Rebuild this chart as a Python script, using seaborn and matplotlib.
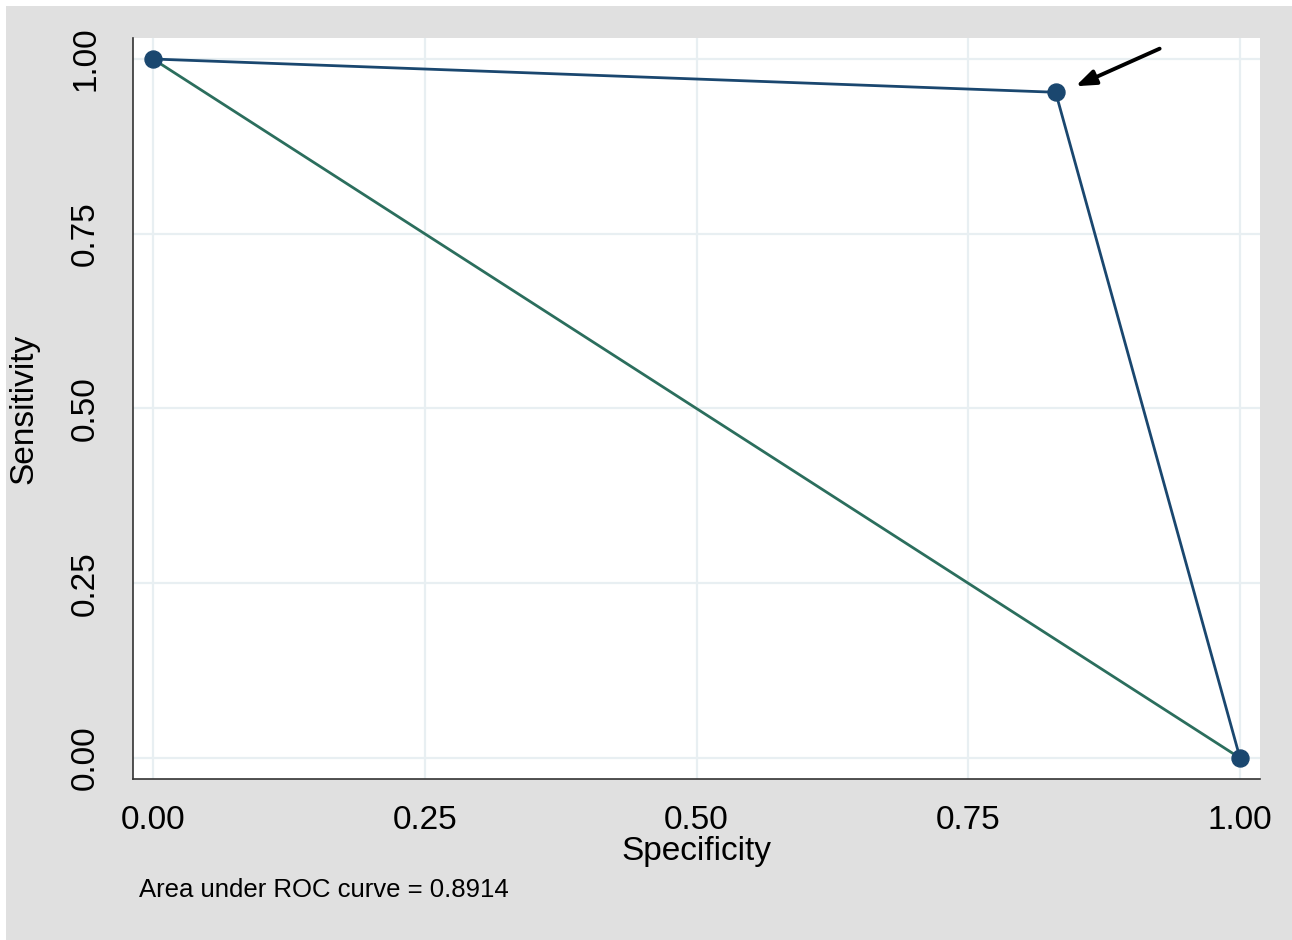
import matplotlib
matplotlib.use('Agg')
import matplotlib.pyplot as plt
import numpy as np
import pandas as pd
import seaborn as sns
from matplotlib.patches import Rectangle

# ROC points (specificity, sensitivity)
specificity = [0.0, 0.8304, 1.0]
sensitivity = [1.0, 0.9524, 0.0]
ref_x = [0.0, 1.0]
ref_y = [1.0, 0.0]
ticks = [0.0, 0.25, 0.50, 0.75, 1.0]
tick_labels = ['0.00', '0.25', '0.50', '0.75', '1.00']
auc_text = 'Area under ROC curve = 0.8914'

navy = '#1a476f'
green = '#2b6e5d'
grid_col = '#e8eff2'
bg_gray = '#e0e0e0'

sns.set_style('white')
plt.rcParams['font.family'] = ['Liberation Sans', 'DejaVu Sans']
plt.rcParams['text.color'] = 'black'
plt.rcParams['axes.labelcolor'] = 'black'
plt.rcParams['xtick.color'] = 'black'
plt.rcParams['ytick.color'] = 'black'

fig = plt.figure(figsize=(12.92, 9.4), dpi=100, facecolor='white')
fig.patches.append(Rectangle((6 / 1292, 0), 1, (940 - 6) / 940, transform=fig.transFigure,
                             facecolor=bg_gray, edgecolor='none', zorder=-10))
ax = fig.add_axes([133 / 1292, (940 - 779) / 940, (1260 - 133) / 1292, (779 - 38) / 940])
ax.set_facecolor('white')

roc = pd.DataFrame({'spec': specificity, 'sens': sensitivity})
ref = pd.DataFrame({'x': ref_x, 'y': ref_y})

sns.lineplot(data=ref, x='x', y='y', color=green, linewidth=2.0, ax=ax, sort=False, zorder=2)
sns.lineplot(data=roc, x='spec', y='sens', color=navy, linewidth=2.0, ax=ax, sort=False, zorder=3)
sns.scatterplot(data=roc, x='spec', y='sens', color=navy, s=150, edgecolor=navy, ax=ax, zorder=4)

ax.set_xlim(-20 / 1087, 1 + 20 / 1087)
ax.set_ylim(-21 / 699, 1 + 21 / 699)
ax.set_xticks(ticks)
ax.set_xticklabels(tick_labels, fontsize=24)
ax.set_yticks(ticks)
ax.set_yticklabels(tick_labels, fontsize=24, rotation=90, va='center')
ax.tick_params(axis='both', direction='out', length=10, width=1.2, color='#333333')
ax.tick_params(axis='x', pad=9)
ax.tick_params(axis='y', pad=13)
ax.grid(True, color=grid_col, linewidth=1.6)
ax.set_axisbelow(True)

for s in ['top', 'right']:
    ax.spines[s].set_visible(False)
for s in ['left', 'bottom']:
    ax.spines[s].set_color('#333333')
    ax.spines[s].set_linewidth(1.2)

ax.set_xlabel('Specificity', fontsize=24, labelpad=0)
ax.set_ylabel('Sensitivity', fontsize=24, labelpad=22)

ax.annotate('', xy=(specificity[1] + 0.016, sensitivity[1] + 0.007),
            xytext=(specificity[1] + 0.098, sensitivity[1] + 0.064),
            arrowprops=dict(arrowstyle='-|>,head_length=1.2,head_width=0.45', color='black', lw=2.8))

fig.text(139 / 1292, (940 - 890) / 940, auc_text, fontsize=18.5, va='center', ha='left')

fig.savefig('out.png', dpi=100, facecolor=fig.get_facecolor())
